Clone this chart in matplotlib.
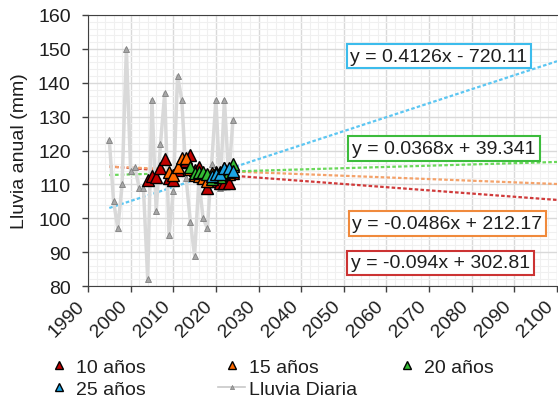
import matplotlib
matplotlib.use('Agg')
import matplotlib.pyplot as plt
from matplotlib.ticker import MultipleLocator
from matplotlib.lines import Line2D
import numpy as np

plt.rcParams['font.family'] = ['Liberation Sans', 'DejaVu Sans']
plt.rcParams['font.size'] = 14

# lluvia anual observada
anios = list(range(1995, 2025))
lluvia = [123, 105, 97, 110, 150, 114, 115, 109, 109, 82,
          135, 102, 122, 137, 95, 108, 142, 135, 112, 99,
          89, 111, 100, 97, 116, 135, 109, 135, 112, 129]

# medias moviles
anios_10 = list(range(2004, 2025))
media_10 = [111.4, 112.6, 112.3, 114.8, 117.5, 112.0, 111.4, 114.1, 116.7, 117.0, 118.7,
            114.1, 115.0, 112.8, 108.8, 110.9, 113.6, 110.3, 110.3, 110.3, 113.3]
anios_15 = list(range(2009, 2025))
media_15 = [113.7, 112.7, 115.1, 117.7, 117.8, 114.4, 112.7, 112.5, 111.9, 111.1,
            113.3, 113.3, 113.8, 114.7, 113.0, 115.3]
anios_20 = list(range(2014, 2025))
media_20 = [115.1, 113.4, 113.7, 113.8, 113.2, 111.5, 112.5, 112.2, 113.5, 113.7, 116.0]
anios_25 = list(range(2019, 2025))
media_25 = [112.6, 113.0, 113.2, 114.7, 114.8, 114.0]

# lineas de tendencia (ecuaciones del grafico)
pendientes = [-0.094, -0.0486, 0.0368, 0.4126]
ordenadas = [302.81, 212.17, 39.341, -720.11]
ecuaciones = ['y = -0.094x + 302.81', 'y = -0.0486x + 212.17',
              'y = 0.0368x + 39.341', 'y = 0.4126x - 720.11']
etiquetas = ['10 años', '15 años', '20 años', '25 años']

col_marca = ['#c00000', '#ff6a00', '#33bb33', '#1ca3e3']
col_tend = ['#d03a3a', '#f4a26a', '#6ad85a', '#5cc6f2']
col_caja = ['#cc3333', '#f08a3c', '#3cbc3c', '#3cbcec']
texto = '#1e1e1e'

fig = plt.figure(figsize=(5.58, 4.02), dpi=100)
ax = fig.add_axes([88/558, 1-287/402, 469/558, 271/402])

ax.set_xlim(1990, 2100)
ax.set_ylim(80, 160)
ax.xaxis.set_major_locator(MultipleLocator(10))
ax.xaxis.set_minor_locator(MultipleLocator(2))
ax.yaxis.set_major_locator(MultipleLocator(10))
ax.yaxis.set_minor_locator(MultipleLocator(2))
ax.grid(which='major', color='#d9d9d9', lw=1, zorder=0)
ax.grid(which='minor', color='#f0f0f0', lw=0.8, zorder=0)
ax.set_axisbelow(True)

xt = np.array([1995, 2100])
for m, b, c in zip(pendientes, ordenadas, col_tend):
    ax.plot(xt, m*xt + b, color=c, lw=1.6, ls=(0, (1.6, 1.0)), zorder=2)

ax.plot(anios, lluvia, color='#d9d9d9', lw=2.5, marker='^', markersize=4.5,
        markerfacecolor='#a6a6a6', markeredgecolor='#7f7f7f', markeredgewidth=0.6, zorder=3)
hg = Line2D([], [], color='#c8c8c8', lw=1.2, marker='^', markersize=4,
            markerfacecolor='#a6a6a6', markeredgecolor='#7f7f7f', markeredgewidth=0.5,
            label='Lluvia Diaria')

hs = []
for i, (x, y) in enumerate([(anios_10, media_10), (anios_15, media_15),
                            (anios_20, media_20), (anios_25, media_25)]):
    h, = ax.plot(x, y, ls='none', marker='^', markersize=8, markerfacecolor=col_marca[i],
                 markeredgecolor='black', markeredgewidth=1, zorder=4+i, label=etiquetas[i])
    hs.append(h)

for s in ['left', 'bottom', 'top']:
    ax.spines[s].set_color('#404040')
ax.spines['right'].set_visible(False)
ax.tick_params(which='major', direction='out', length=4.5, width=1, color='#404040',
               labelcolor=texto, labelsize=14)
ax.tick_params(axis='y', pad=8)
ax.tick_params(which='minor', length=0)
for lab in ax.get_xticklabels():
    lab.set_rotation(45)
    lab.set_ha('right')

fig.text(20/558, 1-151.5/402, 'Lluvia anual (mm)', rotation=90, ha='center', va='center',
         color=texto, fontsize=14)

centros = [(440.5, 264), (447.5, 224.5), (444, 149.5), (439, 57)]
for (cx, cy), eq, c in zip(centros, ecuaciones, col_caja):
    fig.text(cx/558, 1-cy/402, eq, ha='center', va='center', color=texto, fontsize=14,
             bbox=dict(boxstyle='square,pad=0.2', fc='white', ec=c, lw=1.5), zorder=10)

kw = dict(loc='upper left', frameon=False, fontsize=14, handlelength=1.4, handletextpad=0.2,
          labelspacing=0.26, borderpad=0, borderaxespad=0, markerscale=0.75)
for hh, xl in [([hs[0], hs[3]], 45), ([hs[1], hg], 218), ([hs[2]], 393)]:
    leg = fig.legend(handles=hh, bbox_to_anchor=(xl/558, 1-359/402), **kw)
    for t in leg.get_texts():
        t.set_color(texto)

fig.savefig('out.png', dpi=100)
